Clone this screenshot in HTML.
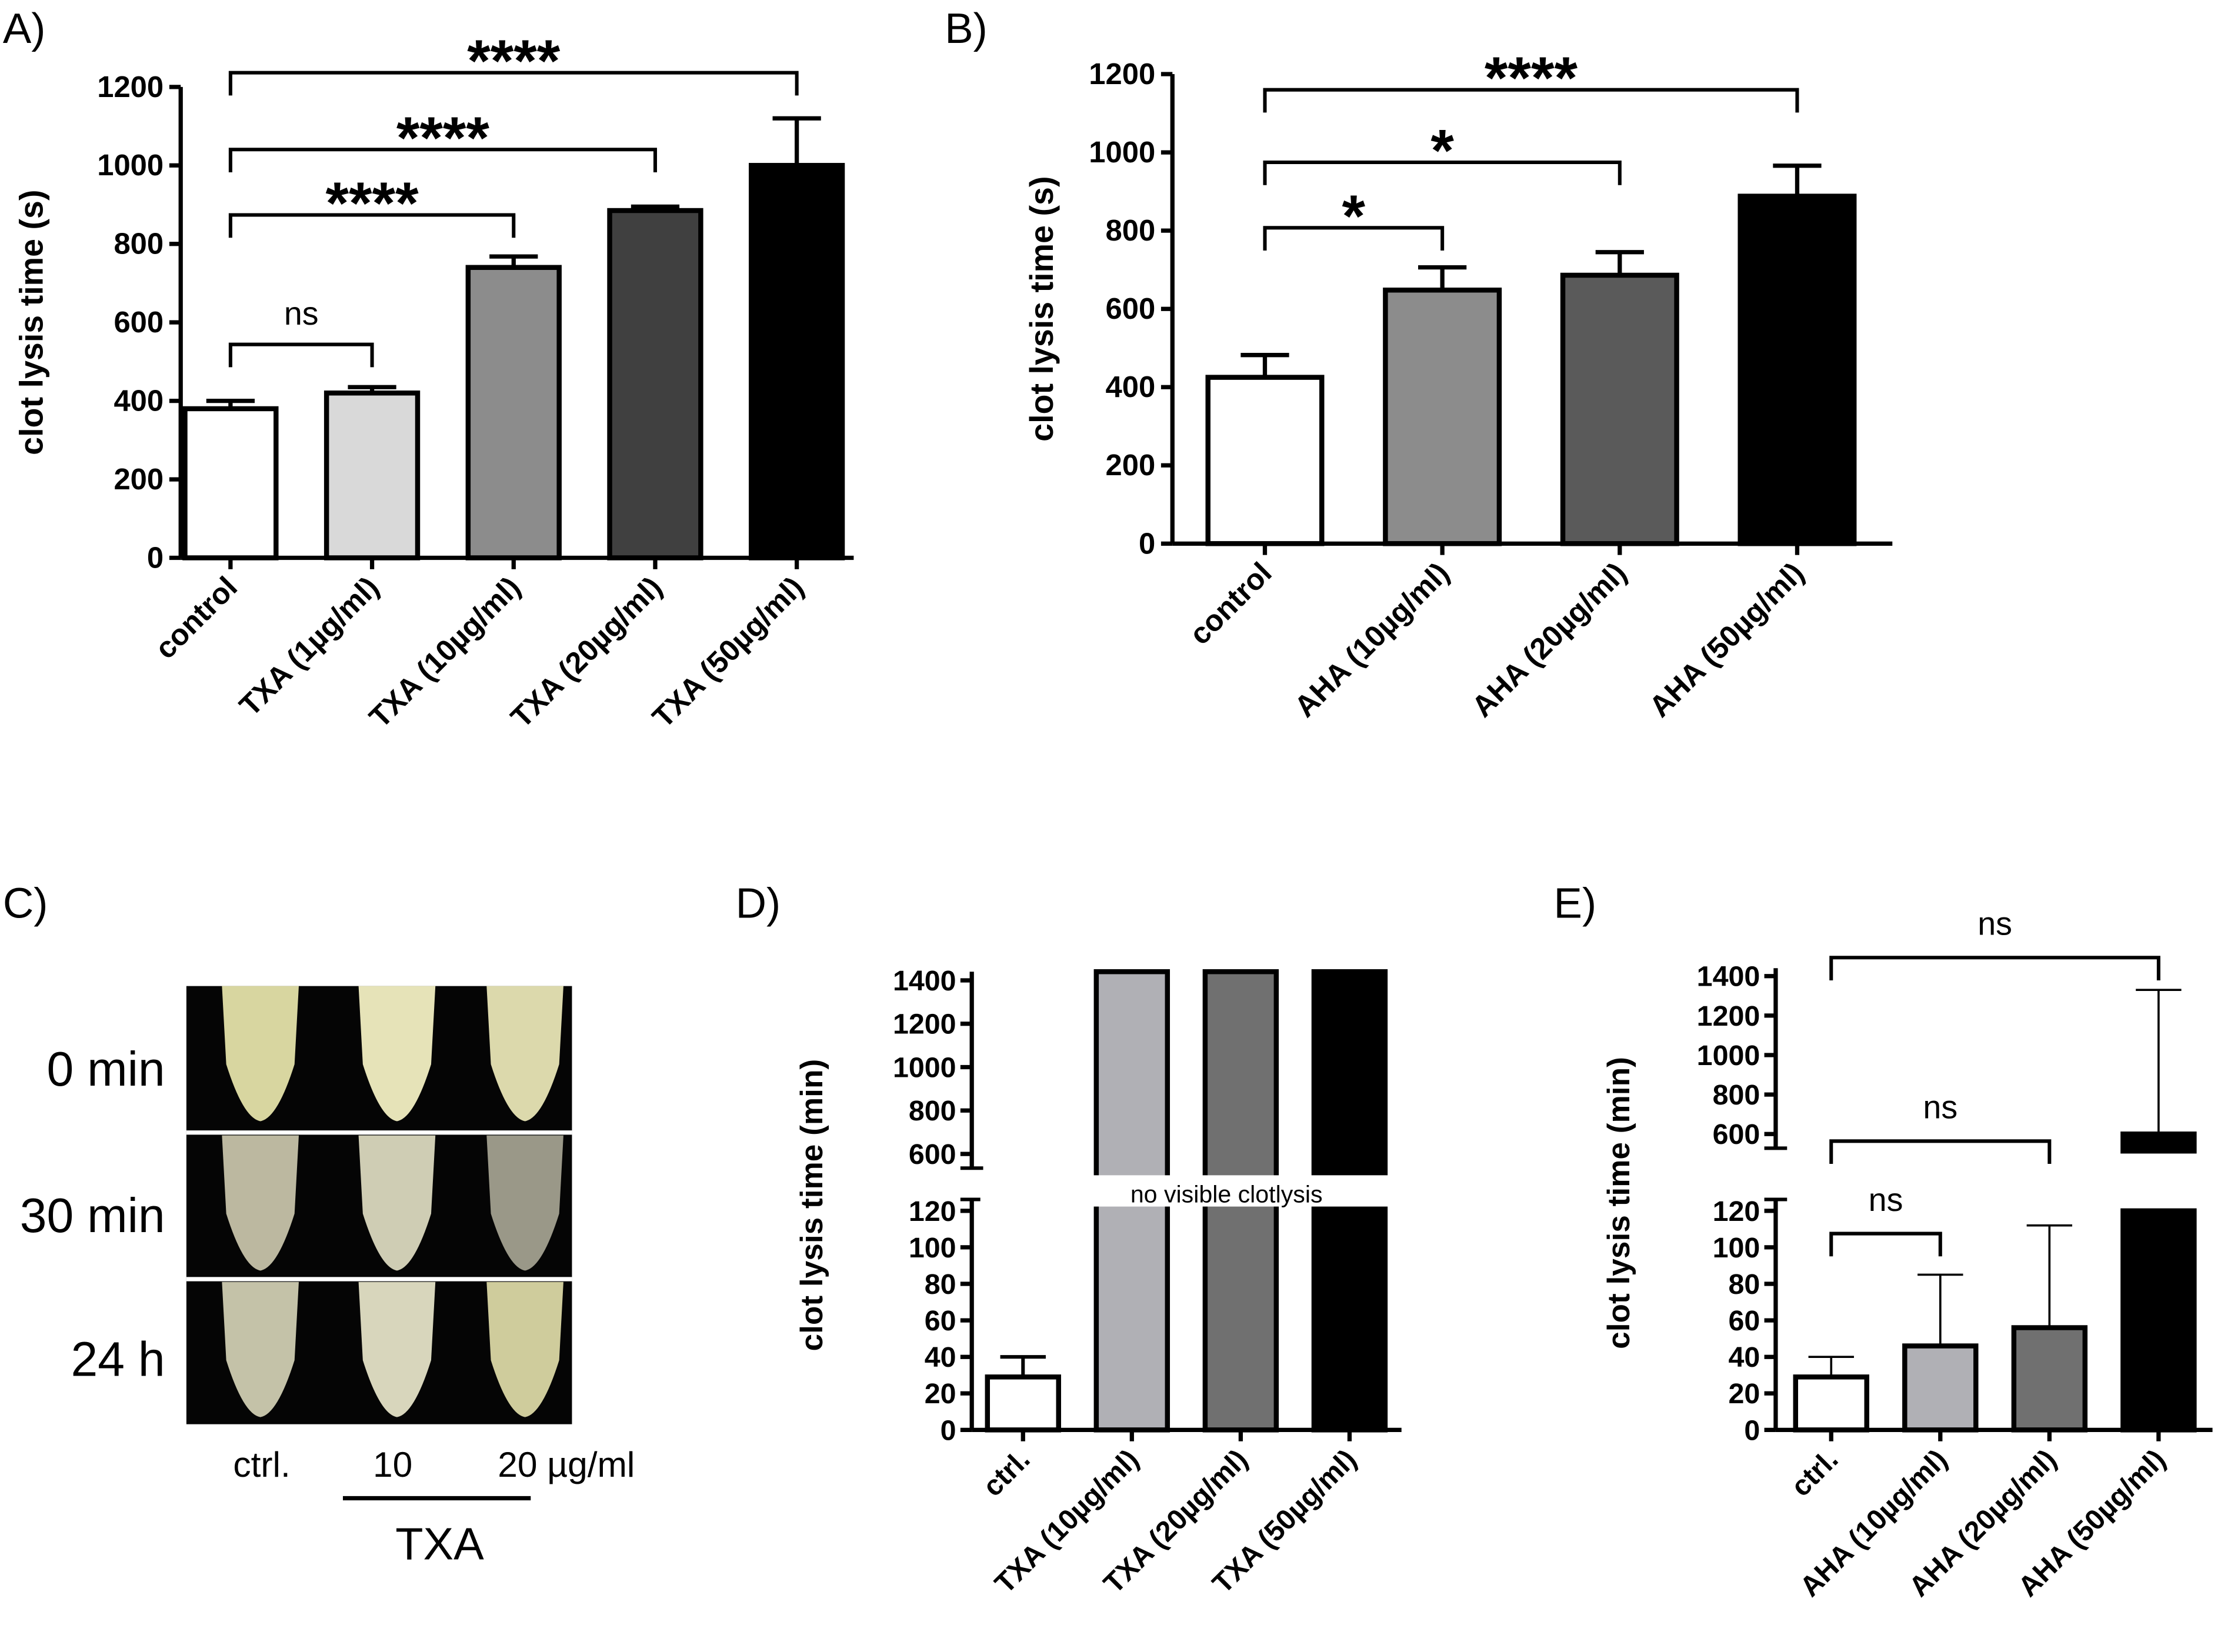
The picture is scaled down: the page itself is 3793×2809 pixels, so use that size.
<!DOCTYPE html>
<html><head><meta charset="utf-8"><style>
html,body{margin:0;padding:0;background:#fff}
svg{display:block}
text{font-family:"Liberation Sans",Arial,sans-serif}
</style></head><body>
<svg id="fig" width="3793" height="2809" viewBox="0 0 1568 1161" xmlns="http://www.w3.org/2000/svg">
<g id="root"></g>
</svg>
<script>
const aCats=["control","TXA (1µg/ml)","TXA (10µg/ml)","TXA (20µg/ml)","TXA (50µg/ml)"];
const aVals=[380,420,740,885,1000];
const aErr=[400,435,768,895,1120];
const aTicks=[0,200,400,600,800,1000,1200];
const bCats=["control","AHA (10µg/ml)","AHA (20µg/ml)","AHA (50µg/ml)"];
const bVals=[425,648,686,888];
const bErr=[482,706,745,966];
const bTicks=[0,200,400,600,800,1000,1200];
const dCats=["ctrl.","TXA (10µg/ml)","TXA (20µg/ml)","TXA (50µg/ml)"];
const dVals=[29,1440,1440,1440];
const dErr=[40,null,null,null];
const eCats=["ctrl.","AHA (10µg/ml)","AHA (20µg/ml)","AHA (50µg/ml)"];
const eVals=[29,46,56,600];
const eErr=[40,85,112,1330];
const lowTicks=[0,20,40,60,80,100,120];
const upTicksD=[600,800,1000,1200,1400];
const upTicksE=[600,800,1000,1200,1400];

const NS="http://www.w3.org/2000/svg";
const root=document.getElementById('root');
function el(tag,attrs,parent,txt){const e=document.createElementNS(NS,tag);for(const k in attrs)e.setAttribute(k,attrs[k]);if(txt!==undefined)e.textContent=txt;(parent||root).appendChild(e);return e;}
function grp(name){const g=el('g',{});return g;}

function simpleChart(o){
  const g=grp(o.name);
  const y=v=>o.y0-(v/1200)*(o.y0-o.y1200);
  const ax=el('line',{x1:o.ax,y1:o.y0,x2:o.ax,y2:y(1200),stroke:'#000','stroke-width':3},g);
  
  o.ticks.forEach(t=>{el('line',{x1:o.ax-8,y1:y(t),x2:o.ax,y2:y(t),stroke:'#000','stroke-width':3},g);
    const tx=el('text',{x:o.ax-12,y:y(t)+7,'text-anchor':'end','font-size':21,'font-weight':'bold'},g,t);
    });
  const xa=el('line',{x1:o.ax,y1:o.y0,x2:o.axEnd,y2:o.y0,stroke:'#000','stroke-width':3},g);
  
  const yl=el('text',{x:0,y:0,transform:`translate(${o.ylx},${(o.y0+y(1200))/2}) rotate(-90)`,'text-anchor':'middle','font-size':23,'font-weight':'bold'},g,'clot lysis time (s)');
  
  o.cats.forEach((c,i)=>{const cx=o.cx0+i*o.step;
    const b=el('rect',{x:cx-o.bw/2,y:y(o.vals[i]),width:o.bw,height:o.y0-y(o.vals[i]),fill:o.colors[i],stroke:'#000','stroke-width':3.5},g);
    
    el('line',{x1:cx,y1:y(o.vals[i]),x2:cx,y2:y(o.err[i]),stroke:'#000','stroke-width':3},g);
    el('line',{x1:cx-17,y1:y(o.err[i]),x2:cx+17,y2:y(o.err[i]),stroke:'#000','stroke-width':3},g);
    el('line',{x1:cx,y1:o.y0,x2:cx,y2:o.y0+8,stroke:'#000','stroke-width':3},g);
    const t=el('text',{x:0,y:0,transform:`translate(${cx+6},${o.y0+22}) rotate(-45)`,'text-anchor':'end','font-size':21,'font-weight':'bold'},g,c);
    });
  o.br.forEach(b=>{const x1=o.cx0+b[0]*o.step,x2=o.cx0+b[1]*o.step;
    el('path',{d:`M${x1},${b[2]+16}V${b[2]}H${x2}V${b[2]+16}`,fill:'none',stroke:'#000','stroke-width':2.5},g);
    const t=el('text',{x:(x1+x2)/2,y:b[2]+b[4],'text-anchor':'middle','font-size':b[3]=='ns'?23:42,'font-weight':b[3]=='ns'?'normal':'bold'},g,b[3]);
    });
}
simpleChart({name:'panel-a-chart',ax:127,axEnd:600,y0:392,y1200:61,ticks:aTicks,ylx:30,cats:aCats,vals:aVals,err:aErr,cx0:162,step:99.5,bw:64,
 colors:['#fff','#d9d9d9','#8c8c8c','#404040','#000'],
 br:[[0,1,242,'ns',-14],[0,2,151,'****',6],[0,3,105,'****',6],[0,4,51,'****',6]]});
simpleChart({name:'panel-b-chart',ax:824,axEnd:1330,y0:382,y1200:52,ticks:bTicks,ylx:740,cats:bCats,vals:bVals,err:bErr,cx0:889,step:124.7,bw:80,
 colors:['#fff','#8c8c8c','#5a5a5a','#000'],
 br:[[0,1,160,'*',6],[0,2,114,'*',6],[0,3,63,'****',6]]});

function brokenChart(o){
  const g=grp(o.name);
  const yl=v=>o.y0-(v/120)*(o.y0-o.y120);
  const yu=v=>o.u600-((v-600)/800)*(o.u600-o.u1400);
  el('line',{x1:o.ax,y1:o.y0,x2:o.ax,y2:yl(120)-8,stroke:'#000','stroke-width':3},g);
  el('line',{x1:o.ax,y1:o.u600+10,x2:o.ax,y2:yu(1440),stroke:'#000','stroke-width':3},g);
  el('line',{x1:o.ax-8,y1:yl(120)-8,x2:o.ax+8,y2:yl(120)-8,stroke:'#000','stroke-width':2.5},g);
  el('line',{x1:o.ax-8,y1:o.u600+10,x2:o.ax+8,y2:o.u600+10,stroke:'#000','stroke-width':2.5},g);
  lowTicks.forEach(t=>{el('line',{x1:o.ax-8,y1:yl(t),x2:o.ax,y2:yl(t),stroke:'#000','stroke-width':3},g);
    const tx=el('text',{x:o.ax-11,y:yl(t)+7,'text-anchor':'end','font-size':20,'font-weight':'bold'},g,t);
    });
  o.up.forEach(t=>{el('line',{x1:o.ax-8,y1:yu(t),x2:o.ax,y2:yu(t),stroke:'#000','stroke-width':3},g);
    const tx=el('text',{x:o.ax-11,y:yu(t)+7,'text-anchor':'end','font-size':20,'font-weight':'bold'},g,t);
    });
  const xa=el('line',{x1:o.ax,y1:o.y0,x2:o.axEnd,y2:o.y0,stroke:'#000','stroke-width':3},g);
  
  const t=el('text',{x:0,y:0,transform:`translate(${o.ylx},${(o.y0+yu(1400))/2}) rotate(-90)`,'text-anchor':'middle','font-size':22,'font-weight':'bold'},g,'clot lysis time (min)');
  
  o.cats.forEach((c,i)=>{const cx=o.cx0+i*o.step,v=o.vals[i];
    let top=v>120?(o.split?yl(120):yu(Math.min(v,1440))):yl(v);
    const b=el('rect',{x:cx-o.bw/2,y:top,width:o.bw,height:o.y0-top,fill:o.colors[i],stroke:'#000','stroke-width':3.5},g);
    
    if(v>120&&o.split){const ub=el('rect',{x:cx-o.bw/2,y:yu(v),width:o.bw,height:yu(600)-yu(v)+12,fill:o.colors[i],stroke:'#000','stroke-width':3.5},g);
      }
    if(o.err[i]!=null){const e=o.err[i];const ye=e<=120?yl(e):yu(e);
      el('line',{x1:cx,y1:v>120?yu(v):top,x2:cx,y2:ye,stroke:'#000','stroke-width':o.thin?1.5:2.5},g);
      el('line',{x1:cx-16,y1:ye,x2:cx+16,y2:ye,stroke:'#000','stroke-width':o.thin?1.5:2.5},g);}
    el('line',{x1:cx,y1:o.y0,x2:cx,y2:o.y0+8,stroke:'#000','stroke-width':3},g);
    const l=el('text',{x:0,y:0,transform:`translate(${cx+6},${o.y0+22}) rotate(-45)`,'text-anchor':'end','font-size':20,'font-weight':'bold'},g,c);
    });
  (o.br||[]).forEach(b=>{const x1=o.cx0+b[0]*o.step,x2=o.cx0+b[1]*o.step;
    el('path',{d:`M${x1},${b[2]+16}V${b[2]}H${x2}V${b[2]+16}`,fill:'none',stroke:'#000','stroke-width':2.5},g);
    const tt=el('text',{x:(x1+x2)/2,y:b[2]-16,'text-anchor':'middle','font-size':23},g,'ns');
    });
  if(o.note){el('rect',{x:o.ax+6,y:o.note[1]-19,width:300,height:22,fill:'#fff'},g);
    const n=el('text',{x:o.note[0],y:o.note[1],'text-anchor':'middle','font-size':17},g,'no visible clotlysis');
    }
}
brokenChart({name:'panel-d-chart',ax:683,axEnd:985,y0:1005,y120:851,u600:811,u1400:689,breakLo:600,up:upTicksD,ylx:578,
 cats:dCats,vals:dVals,err:dErr,cx0:719,step:76.5,bw:50,colors:['#fff','#b0b0b5','#707070','#000'],split:false,note:[862,845]});
brokenChart({name:'panel-e-chart',ax:1248,axEnd:1555,y0:1005,y120:851,u600:797,u1400:686,breakLo:600,up:upTicksE,ylx:1145,thin:true,
 cats:eCats,vals:eVals,err:eErr,cx0:1287,step:76.7,bw:50,colors:['#fff','#b0b0b5','#707070','#000'],split:true,
 br:[[0,3,673],[0,2,802],[0,1,867]]});

const L=[["A)",0,30],["B)",662,30],["C)",0,645],["D)",515,645],["E)",1090,645]];
L.forEach(l=>{const t=el('text',{x:l[1]+2,y:l[2],'font-size':30},root,l[0]);});
const pc=grp('panel-c-photo');
el('rect',{x:131,y:693,width:271,height:308,fill:'#050505'},pc);
el('line',{x1:131,y1:796,x2:402,y2:796,stroke:'#fff','stroke-width':3},pc);
el('line',{x1:131,y1:899,x2:402,y2:899,stroke:'#fff','stroke-width':3},pc);
const rows=[[693,'#d8d6a0','#e6e3b8','#dcd9ac'],[798,'#bcb8a0','#cfcdb4','#9a9888'],[901,'#c4c2a8','#d8d6bc','#cfcc9c']];
const tubeX=[183,279,369];
rows.forEach(r=>{tubeX.forEach((x,i)=>{
  el('path',{d:`M${x-27},${r[0]} L${x+27},${r[0]} L${x+24},${r[0]+55} Q${x+12},${r[0]+93} ${x},${r[0]+95} Q${x-12},${r[0]+93} ${x-24},${r[0]+55} Z`,fill:r[i+1]},pc);});});
const rl=[["0 min",751],["30 min",854],["24 h",955]];
rl.forEach(r=>{const t=el('text',{x:116,y:r[1]+12,'text-anchor':'end','font-size':34},root,r[0]);});
[["ctrl.",184],["10",276],["20 µg/ml",398]].forEach(c=>{const t=el('text',{x:c[1],y:1038,'text-anchor':'middle','font-size':25},root,c[0]);});
el('line',{x1:241,y1:1053,x2:373,y2:1053,stroke:'#000','stroke-width':3});
const tx=el('text',{x:309,y:1096,'text-anchor':'middle','font-size':32},root,'TXA');

</script>
</body></html>
